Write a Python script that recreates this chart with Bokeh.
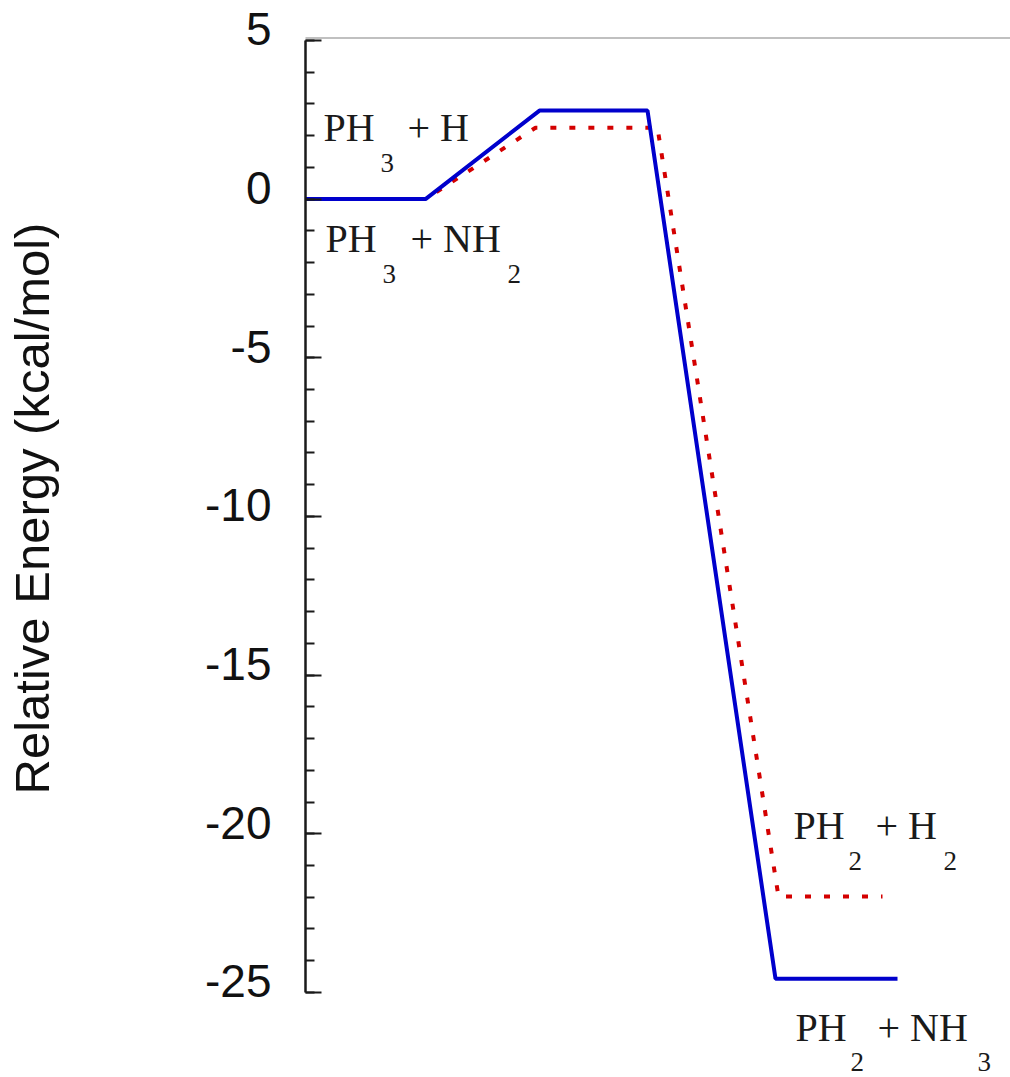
import math
from bokeh.plotting import figure
from bokeh.models import Range1d, FixedTicker, ColumnDataSource
from bokeh.core.properties import value
from bokeh.embed import file_html
from bokeh.resources import INLINE

# ---- data ----
# reaction coordinate (arbitrary units) and relative energies (kcal/mol)
x_blue = [0, 120, 234, 342, 470, 592]
e_blue = [0.0, 0.0, 2.79, 2.79, -24.57, -24.57]
x_red = [0, 120, 230, 352, 473, 577]
e_red = [0.0, 0.0, 2.25, 2.25, -21.98, -21.98]

y_major_ticks = [-25, -20, -15, -10, -5, 0, 5]
y_minor_ticks = list(range(-25, 6))
y_tick_labels = ["-25", "-20", "-15", "-10", "-5", "0", "5"]
y_label = "Relative Energy (kcal/mol)"

# species labels: anchor (reaction coord, energy at text baseline)
label_x = [18, 20, 488, 490]
label_y = [1.72, -1.78, -20.28, -26.64]
# label pieces: (label index, pixel offset, text)
main_idx = [0, 0, 1, 1, 2, 2, 3, 3]
main_dx = [0, 84, 0, 85, 0, 82, 0, 82]
main_txt = ["PH", "+ H", "PH", "+ NH", "PH", "+ H", "PH", "+ NH"]
sub_idx = [0, 1, 1, 2, 2, 3, 3]
sub_dx = [57, 57, 182, 55, 150, 55, 182]
sub_txt = ["3", "3", "2", "2", "2", "2", "3"]

p = figure(width=1010, height=1077, output_backend="svg", toolbar_location=None,
           x_axis_location=None, x_range=Range1d(-305, 705), y_range=Range1d(-27.68, 6.259),
           min_border_left=0, min_border_right=0, min_border_top=0, min_border_bottom=0)
p.outline_line_color = None
p.grid.visible = False
p.background_fill_color = "white"
p.border_fill_color = "white"

ax = p.yaxis[0]
ax.fixed_location = 0
ax.ticker = FixedTicker(ticks=y_major_ticks, minor_ticks=y_minor_ticks)
ax.bounds = (-25, 5)
ax.axis_line_color = "#1a1a1a"
ax.axis_line_width = 2.5
ax.major_tick_line_color = "#1a1a1a"
ax.major_tick_line_width = 2
ax.minor_tick_line_color = "#1a1a1a"
ax.minor_tick_line_width = 2
ax.major_tick_in = 16
ax.major_tick_out = 0
ax.minor_tick_in = 9
ax.minor_tick_out = 0
ax.major_label_overrides = {t: "" for t in y_major_ticks}
ax.major_label_standoff = 0

# tick labels (they sit slightly above their ticks, as in the original)
tick_src = ColumnDataSource(dict(x=[0] * len(y_major_ticks), y=y_major_ticks, text=y_tick_labels))
p.text(x="x", y="y", text="text", source=tick_src, x_offset=-34, y_offset=-11,
       text_align="right", text_baseline="middle",
       text_font=value("Liberation Sans"), text_font_size="46px", text_color="#111111")

# axis title
p.text(x=[-274], y=[(y_major_ticks[0] + y_major_ticks[-1]) / 2 + 0.25], text=[y_label],
       angle=math.pi / 2, text_align="center", text_baseline="middle",
       text_font=value("Liberation Sans"), text_font_size="49px", text_color="#111111")

# top gray rule
p.segment(x0=[0], y0=[5.079], x1=[p.x_range.end], y1=[5.079], line_color="#c0c0c0", line_width=2)

p.line(x_red, e_red, line_color="#d40000", line_width=4, line_dash="6 13")
p.line(x_blue, e_blue, line_color="#0000cc", line_width=4)

main_src = ColumnDataSource(dict(
    x=[label_x[i] for i in main_idx], y=[label_y[i] for i in main_idx],
    dx=main_dx, text=main_txt))
sub_src = ColumnDataSource(dict(
    x=[label_x[i] for i in sub_idx], y=[label_y[i] for i in sub_idx],
    dx=sub_dx, text=sub_txt))

p.text(x="x", y="y", text="text", x_offset="dx", y_offset=-17, source=main_src,
       text_font=value("Liberation Serif"), text_font_size="40px",
       text_baseline="alphabetic", text_align="left", text_color="#1a1a1a")
p.text(x="x", y="y", text="text", x_offset="dx", y_offset=18, source=sub_src,
       text_font=value("Liberation Serif"), text_font_size="27px",
       text_baseline="alphabetic", text_align="left", text_color="#1a1a1a")

open("out.html", "w").write(file_html(p, INLINE))
